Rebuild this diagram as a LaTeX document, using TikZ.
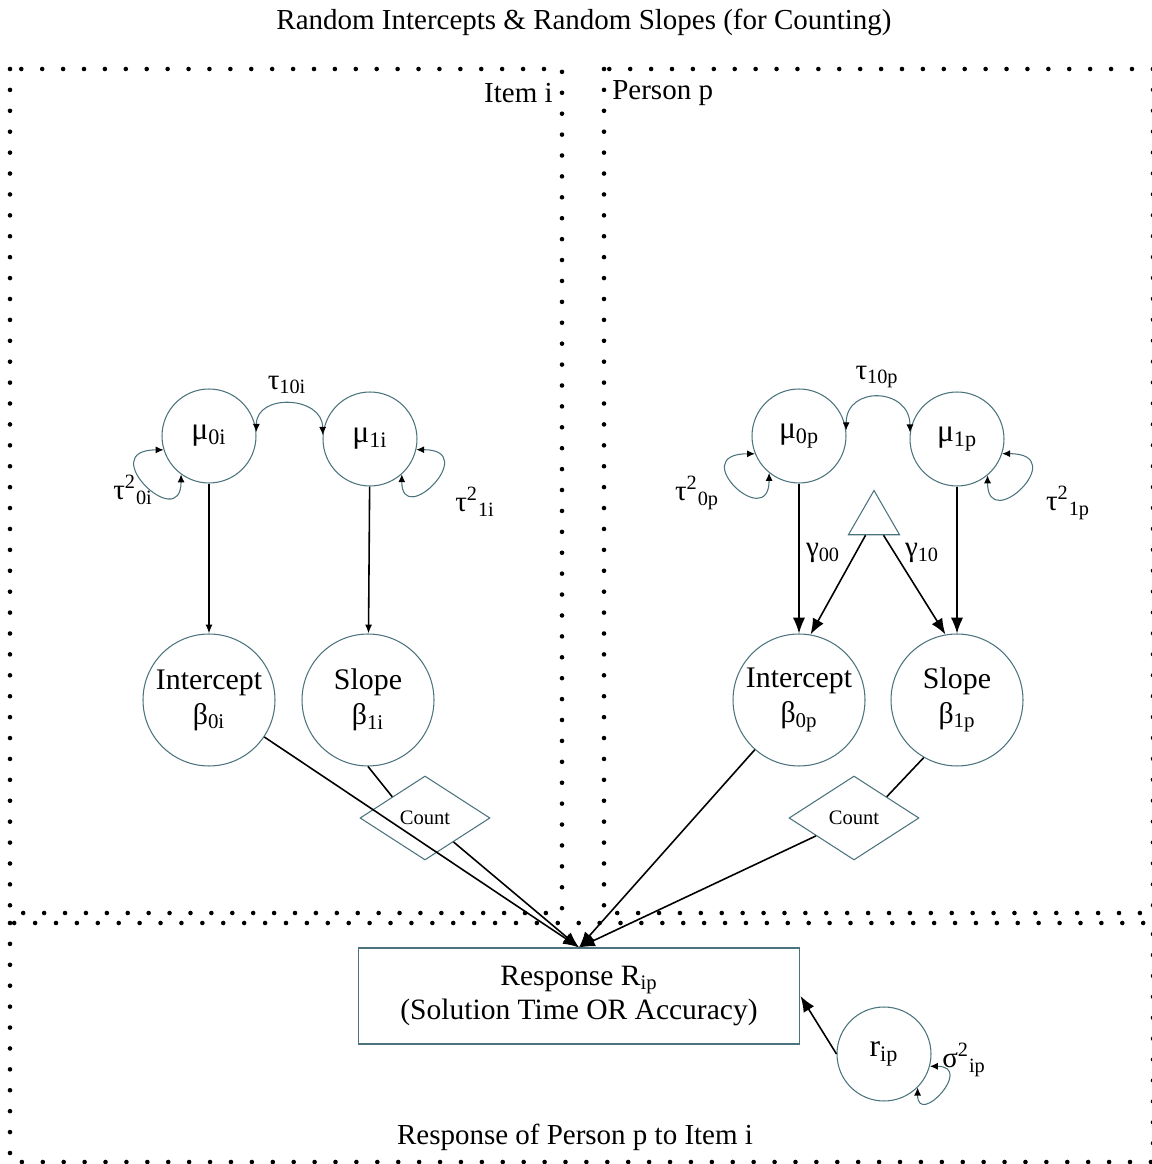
\documentclass[tikz,border=0pt]{standalone}
\usepackage{fontspec}
\setmainfont{Liberation Serif}
\usetikzlibrary{arrows.meta,shapes.geometric}
\definecolor{edgecol}{RGB}{75,115,125}

\begin{document}
\begin{tikzpicture}[x=0.02cm,y=0.02cm,
  every node/.style={font=\fontsize{16.5}{19}\selectfont},
  var/.style={draw=edgecol, circle, line width=0.6pt, minimum size=1.88cm, inner sep=0pt, font=\fontsize{18}{20}\selectfont},
  coef/.style={draw=edgecol, circle, line width=0.6pt, minimum size=2.64cm, inner sep=0pt, align=center, font=\fontsize{17}{20}\selectfont},
  cnt/.style={draw=edgecol, diamond, line width=0.6pt, minimum width=2.6cm, minimum height=1.68cm, inner sep=0pt, font=\fontsize{11.7}{13}\selectfont},
  lab/.style={inner sep=0pt},
  dotbox/.style={line width=2.6pt, line cap=round, dash pattern=on 0pt off 11.9pt},
  arr/.style={line width=0.9pt, -{Latex[length=5pt,width=4pt]}},
  bigarr/.style={line width=0.9pt, -{Latex[length=9pt,width=7pt]}},
  loopar/.style={draw=edgecol, line width=0.6pt, {Latex[length=4.5pt,width=4pt,color=black]}-{Latex[length=4.5pt,width=4pt,color=black]}}]
\useasboundingbox (0,0) rectangle (1152,1164);

% the three regions
\draw[dotbox] (10,1095) rectangle (562,251);
\draw[dotbox] (604,1095) rectangle (1153,251);
\draw[dotbox] (10,241) rectangle (1153,2);

\node[lab] (title) at (584,1142) {Random Intercepts \& Random Slopes (for Counting)};
\node[lab, anchor=east] (itemlab) at (553,1071) {Item i};
\node[lab, anchor=west] (perslab) at (612,1071) {Person p};
\node[lab] (resplab) at (575,27) {Response of Person p to Item i};

% item side
\node[var] (mu0i) at (209,728) {μ\textsubscript{0i}};
\node[var] (mu1i) at (370,725) {μ\textsubscript{1i}};
\node[coef] (b0i) at (209,464) {Intercept\\β\textsubscript{0i}};
\node[coef] (b1i) at (368,464) {Slope\\β\textsubscript{1i}};
\node[cnt] (cnti) at (425,346) {Count};
\node[lab] (t10i) at (287,779) {τ\textsubscript{10i}};
\node[lab] (t0i) at (133,674) {τ\textsuperscript{2}\textsubscript{0i}};
\node[lab] (t1i) at (475,662) {τ\textsuperscript{2}\textsubscript{1i}};

\draw[loopar] (mu0i.5) to[out=90,in=90,looseness=1.5] (mu1i.175);
\draw[loopar] (mu0i.197) .. controls +(180:70) and +(270:60) .. (mu0i.234);
\draw[loopar] (mu1i.347) .. controls +(0:65) and +(270:55) .. (mu1i.312);
\draw[arr] (mu0i) -- (b0i);
\draw[arr] (mu1i) -- (b1i);
\draw[line width=0.9pt] (b1i.south) -- (cnti.north west);

% person side
\node[var] (mu0p) at (799,728) {μ\textsubscript{0p}};
\node[var] (mu1p) at (957,725) {μ\textsubscript{1p}};
\node[draw=edgecol, line width=0.6pt, regular polygon, regular polygon sides=3, minimum size=1.18cm, inner sep=0pt] (tri) at (874,644) {};
\node[coef] (b0p) at (799,464) {Intercept\\β\textsubscript{0p}};
\node[coef] (b1p) at (957,464) {Slope\\β\textsubscript{1p}};
\node[cnt] (cntp) at (854,346) {Count};
\node[lab] (t10p) at (877,787) {τ\textsubscript{10p}};
\node[lab] (t0p) at (697,671) {τ\textsuperscript{2}\textsubscript{0p}};
\node[lab] (t1p) at (1068,661) {τ\textsuperscript{2}\textsubscript{1p}};
\node[lab] (g00) at (823,611) {γ\textsubscript{00}};
\node[lab] (g10) at (922,611) {γ\textsubscript{10}};

\draw[loopar] (mu0p.7) to[out=90,in=90,looseness=1.8] (mu1p.172);
\draw[loopar] (mu0p.202) .. controls +(180:70) and +(270:60) .. (mu0p.231);
\draw[loopar] (mu1p.342) .. controls +(0:70) and +(270:60) .. (mu1p.310);
\draw[bigarr] (mu0p) -- (b0p);
\draw[bigarr] (mu1p) -- (b1p);
\draw[bigarr] (tri) -- (b0p.80);
\draw[bigarr] (tri) -- (b1p.100);
\draw[line width=0.9pt] (b1p.240) -- (cntp.north east);

% response
\node[draw=edgecol, line width=0.6pt, minimum width=8.84cm, minimum height=1.92cm, align=center, font=\fontsize{16.8}{19.5}\selectfont] (resp) at (579,168) {Response R\textsubscript{ip}\\(Solution Time OR Accuracy)};
\node[var] (rip) at (884,110) {r\textsubscript{ip}};
\node[lab] (sip) at (964,104) {σ\textsuperscript{2}\textsubscript{ip}};
\draw[loopar] (rip.345) .. controls +(0:45) and +(270:40) .. (rip.315);

\draw[bigarr] (b0i) -- (resp.north);
\draw[bigarr] (cnti) -- (resp.north);
\draw[bigarr] (b0p) -- (resp.north);
\draw[bigarr] (cntp) -- (resp.north);
\draw[bigarr] (rip.west) -- (resp.east);
\end{tikzpicture}
\end{document}
